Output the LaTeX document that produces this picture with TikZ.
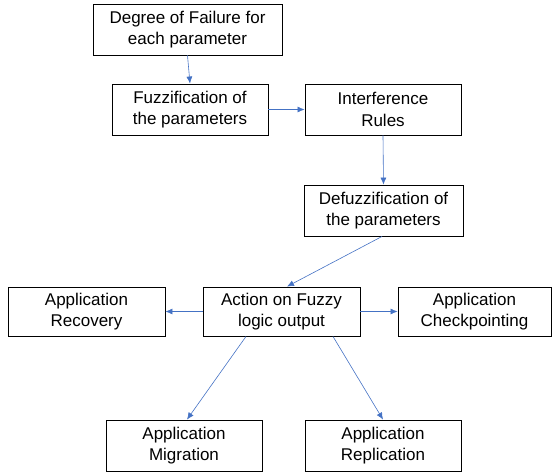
\documentclass[tikz,border=0pt]{standalone}
\usepackage{fontspec}
\setmainfont{Liberation Sans}
\usetikzlibrary{arrows.meta}
\definecolor{arrowblue}{HTML}{4472C4}

\begin{document}
\begin{tikzpicture}[x=1pt, y=-1pt,
    box/.style={draw, line width=0.9pt, align=center, inner sep=0pt,
        font=\fontsize{17}{21.5}\selectfont},
    arr/.style={draw=arrowblue, line width=0.6pt,
        -{Latex[length=7pt, width=6pt]}, arrowblue}]
    \useasboundingbox (0,0) rectangle (552,472);

    % Boxes
    \node[box, minimum width=189, minimum height=51] (deg) at (187.5,29.5) {Degree of Failure for\\each parameter};
    \node[box, minimum width=156, minimum height=51] (fuzz) at (190,109.5) {Fuzzification of\\the parameters};
    \node[box, minimum width=156, minimum height=51] (rules) at (383,109.5) {Interference\\Rules};
    \node[box, minimum width=159, minimum height=51] (defuzz) at (383.5,210.5) {Defuzzification of\\the parameters};
    \node[box, minimum width=157, minimum height=49] (action) at (281.5,311.5) {Action on Fuzzy\\logic output};
    \node[box, minimum width=157, minimum height=49] (recov) at (86.5,311.5) {Application\\Recovery};
    \node[box, minimum width=153, minimum height=49] (check) at (474.5,311.5) {Application\\Checkpointing};
    \node[box, minimum width=156, minimum height=51] (migr) at (184,445.5) {Application\\Migration};
    \node[box, minimum width=156, minimum height=51] (repl) at (383,445.5) {Application\\Replication};

    % Arrows
    \draw[arr] (deg.south) -- (fuzz.north);
    \draw[arr] (fuzz.east) -- (rules.west);
    \draw[arr] (rules.south) -- (defuzz.north);
    \draw[arr] ([xshift=-1.5]defuzz.south) -- ([xshift=5.5]action.north);
    \draw[arr] (action.west) -- (recov.east);
    \draw[arr] (action.east) -- (check.west);
    \draw[arr] ([xshift=-35.5]action.south) -- ([xshift=3]migr.north);
    \draw[arr] ([xshift=51.5]action.south) -- (repl.north);
\end{tikzpicture}
\end{document}
